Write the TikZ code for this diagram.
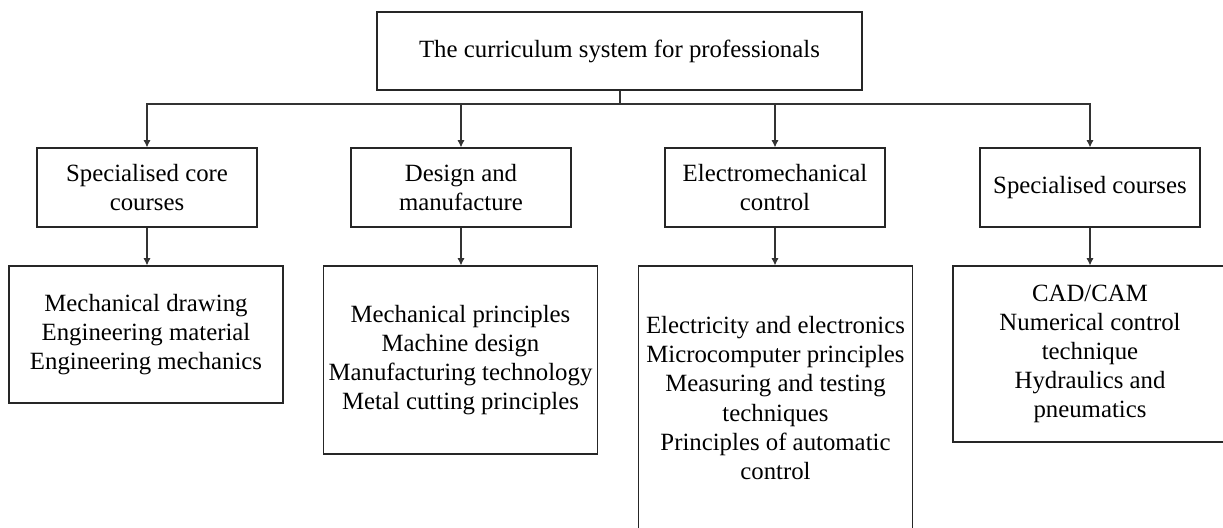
\documentclass[tikz,border=0pt]{standalone}
\usepackage{fontspec}
\setmainfont{Liberation Serif}
\usetikzlibrary{arrows.meta}

\begin{document}
\begin{tikzpicture}[
    x=0.5pt, y=-0.5pt,
    box/.style={rectangle, draw=black!85, line width=0.6pt, align=center, inner sep=0pt, font=\fontsize{12.4}{14.6}\selectfont},
    group/.style={box, minimum width=110pt, minimum height=39.5pt},
    list/.style={box, minimum width=137pt},
    link/.style={draw=black!80, line width=0.6pt},
    arrow/.style={link, -{Latex[length=3.6pt, width=3.6pt]}},
]
\useasboundingbox (0,0) rectangle (1223,528);

% root of the tree
\node[box, minimum width=242.5pt, minimum height=39pt] (root) at (619.5,51) {The curriculum system for professionals};
\coordinate (bus) at (620,104);

% second row: course groups
\node[group] (core) at (147,187.5) {Specialised core\\courses};
\node[group] (design) at (461,187.5) {Design and\\manufacture};
\node[group] (electro) at (775,187.5) {Electromechanical\\control};
\node[group] (special) at (1090,187.5) {Specialised courses};

% third row: course lists
\node[list, minimum height=68.5pt] (coreList) at (146,334.5) {Mechanical drawing\\Engineering material\\Engineering mechanics};
\node[list, minimum height=94pt] (designList) at (460.5,360) {Mechanical principles\\Machine design\\Manufacturing technology\\Metal cutting principles};
\node[list, minimum height=132pt] (electroList) at (775.5,398) {Electricity and electronics\\Microcomputer principles\\Measuring and testing\\techniques\\Principles of automatic\\control};
\node[list, minimum height=88pt] (specialList) at (1090,354) {CAD/CAM\\Numerical control\\technique\\Hydraulics and\\pneumatics};

\draw[link, line width=1pt] (root.south -| bus) -- (bus);
\foreach \g in {core, design, electro, special} {
    \draw[arrow] (bus) -| (\g);
    \draw[arrow] (\g.south) -- (\g.south |- \g List.north);
}
\end{tikzpicture}
\end{document}
